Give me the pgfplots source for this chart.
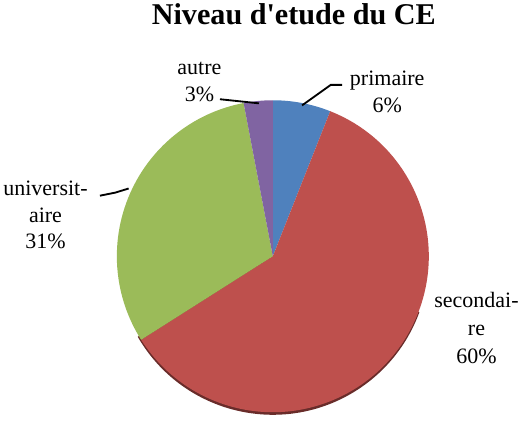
\documentclass[border=0pt]{standalone}
\usepackage{fontspec}
\setmainfont{Liberation Serif}
\usepackage{pgfplots}
\pgfplotsset{compat=1.18}

\definecolor{cBlue}{HTML}{4F81BD}
\definecolor{cRed}{HTML}{BE504D}
\definecolor{cGreen}{HTML}{9BBB59}
\definecolor{cPurple}{HTML}{8064A2}

% shares in percent, clockwise from the top
\def\vPrim{6}
\def\vSec{60}
\def\vUniv{31}
\def\vAutre{3}

% straight apostrophe, bypassing the TeX ligature mapping
\newcommand\sq{\XeTeXglyph\XeTeXcharglyph"0027\relax}

\begin{document}
\begin{tikzpicture}
\pgfmathsetmacro\aA{90}
\pgfmathsetmacro\aB{\aA-3.6*\vPrim}
\pgfmathsetmacro\aC{\aB-3.6*\vSec}
\pgfmathsetmacro\aD{\aC-3.6*\vUniv}
\pgfmathsetmacro\aE{\aD-3.6*\vAutre}
\begin{axis}[
    scale only axis,
    width=522bp, height=414bp,
    xmin=0, xmax=522, ymin=0, ymax=414,
    hide axis, clip=false,
]
\def\cx{273.5}
\def\cy{153}
% shadow under the pie
\fill[cRed!55!black] (axis cs:\cx,\cy-2.5) ++(-150:152bp) arc[start angle=-150, end angle=-20, radius=152bp] -- (axis cs:\cx,\cy) -- cycle;
\fill[cBlue] (axis cs:\cx,\cy) -- ++(\aA:152bp) arc[start angle=\aA, end angle=\aB, radius=152bp] -- cycle;
\fill[cRed] (axis cs:\cx,\cy) -- ++(\aB:152bp) arc[start angle=\aB, end angle=\aC, radius=152bp] -- cycle;
\fill[cGreen] (axis cs:\cx,\cy) -- ++(\aC:152bp) arc[start angle=\aC, end angle=\aD, radius=152bp] -- cycle;
\fill[cPurple] (axis cs:\cx,\cy) -- ++(\aD:152bp) arc[start angle=\aD, end angle=\aE, radius=152bp] -- cycle;

% leader lines
\draw[line width=1.8pt] (axis cs:302,300) -- (axis cs:330,320) -- (axis cs:341,320);
\draw[line width=1.8pt] (axis cs:222,306) -- (axis cs:260,302);
\draw[line width=1.8pt] (axis cs:105,212) -- (axis cs:120,215) -- (axis cs:133,219);

% labels
\node[align=center, font=\fontsize{21.5}{27}\selectfont] at (axis cs:385,313) {primaire\\6\%};
\node[align=center, font=\fontsize{21.5}{27}\selectfont] at (axis cs:202,323) {autre\\3\%};
\node[align=center, font=\fontsize{21.5}{26}\selectfont] at (axis cs:52,193) {universit-\\aire\\31\%};
\node[align=center, font=\fontsize{21.5}{27}\selectfont] at (axis cs:472,83) {secondai-\\re\\60\%};

\node[anchor=base, font=\fontsize{29.5}{34}\selectfont\bfseries] at (axis cs:294,379) {Niveau d\sq etude du CE};
\end{axis}
\end{tikzpicture}
\end{document}
